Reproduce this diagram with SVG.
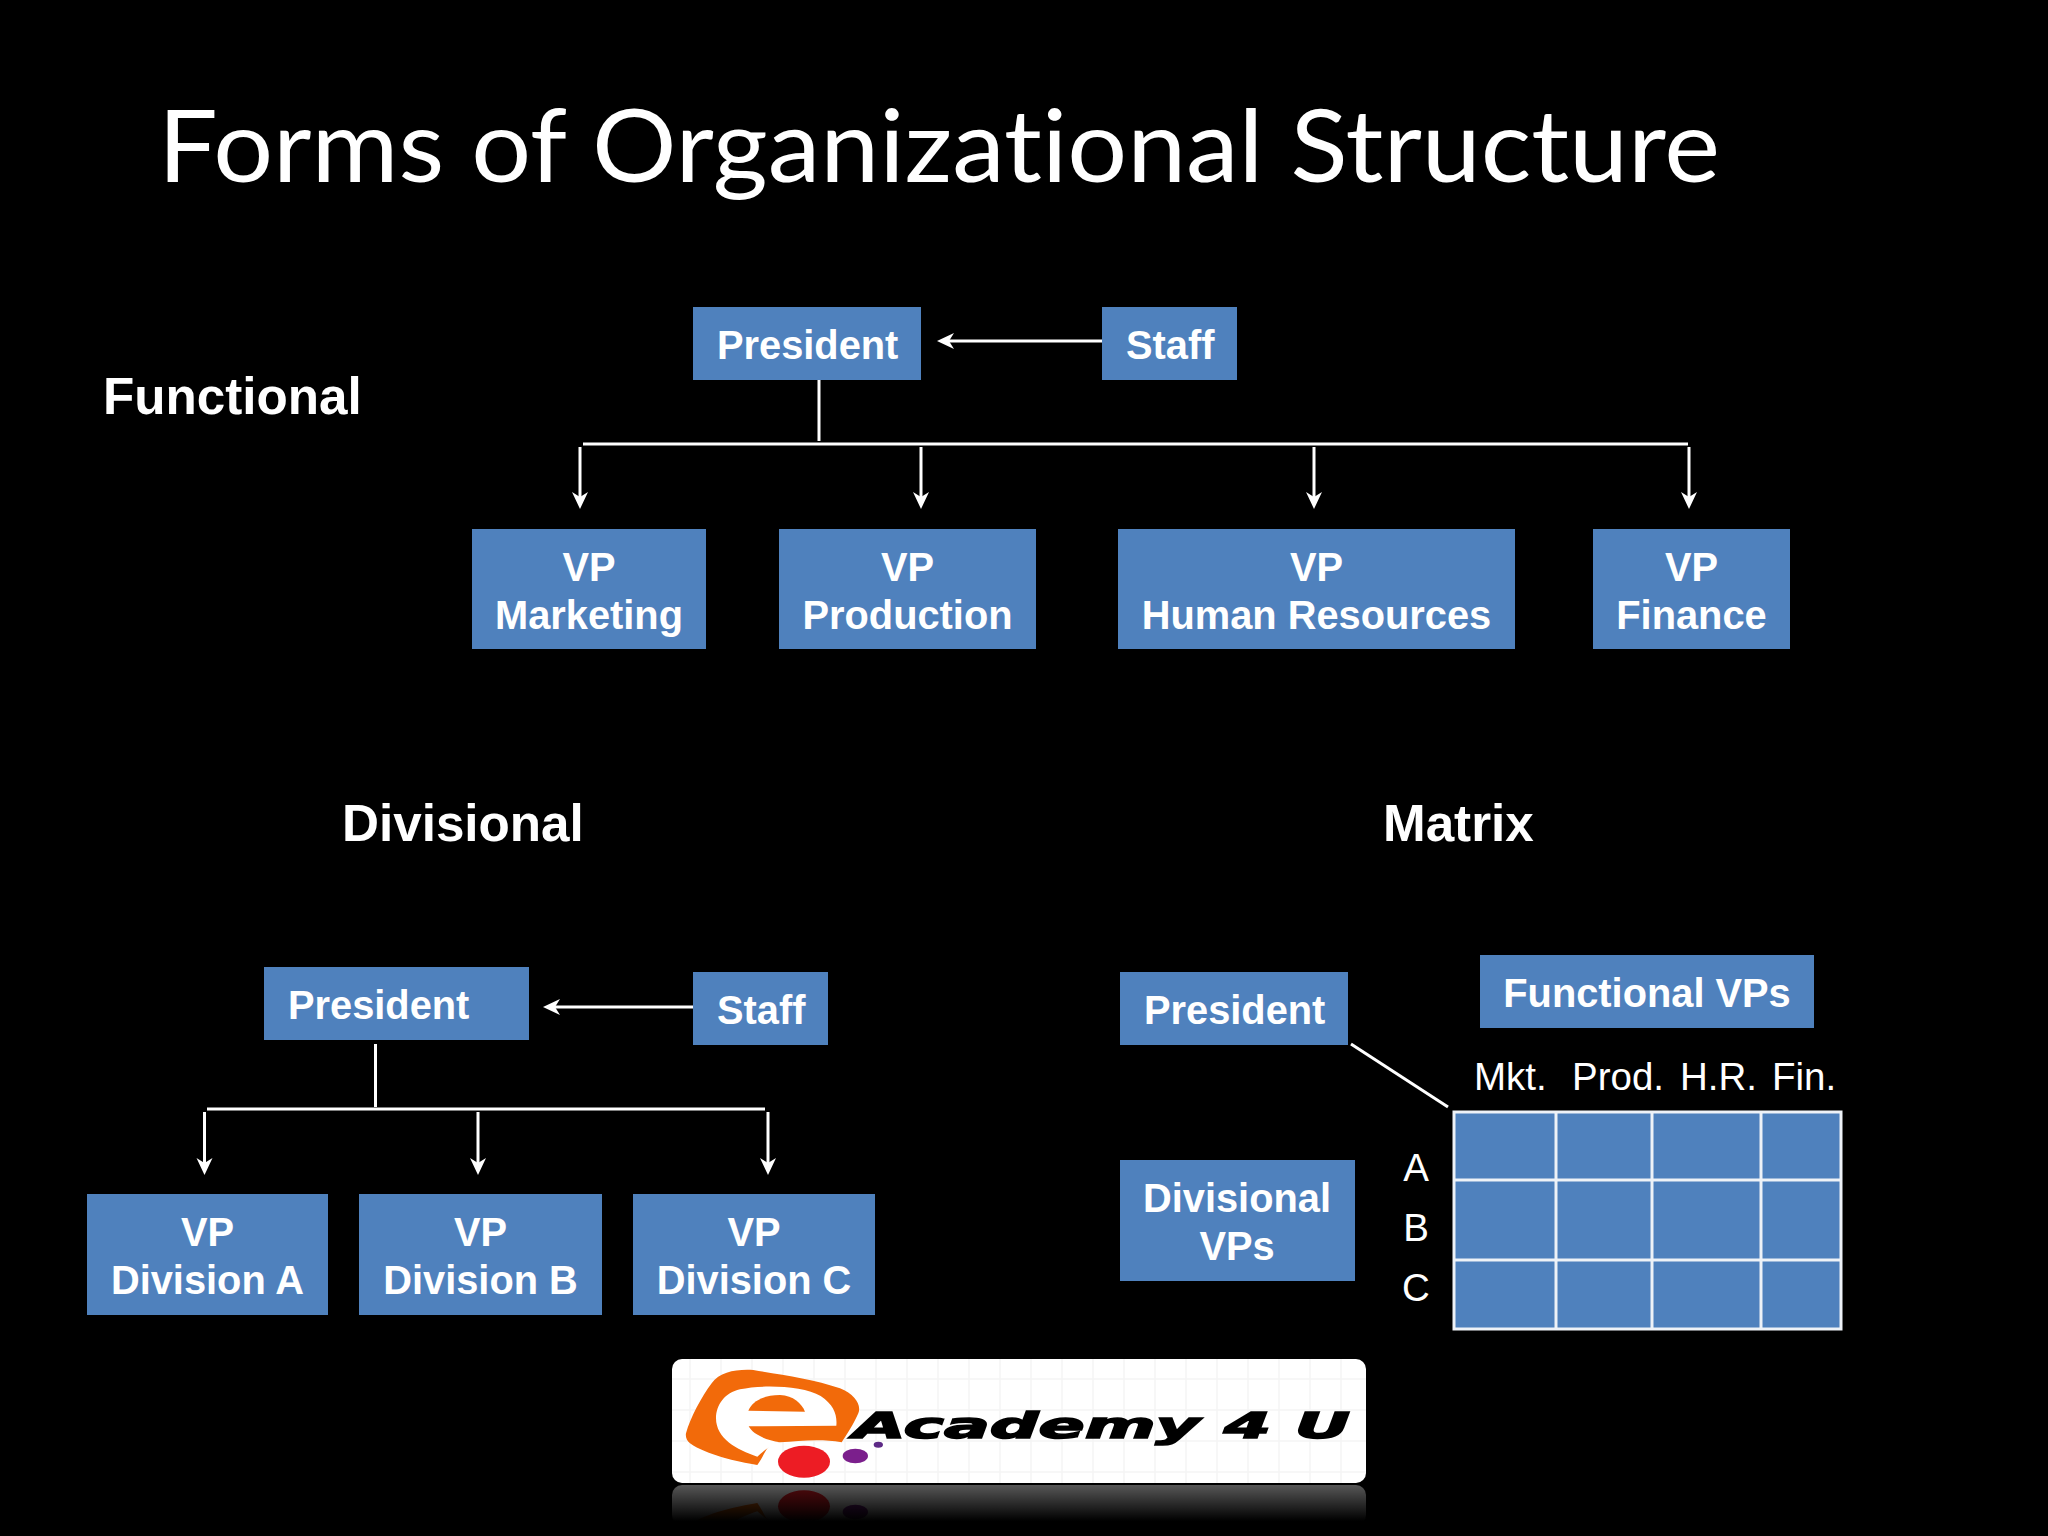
<svg xmlns="http://www.w3.org/2000/svg" width="2048" height="1536" viewBox="0 0 2048 1536">
<defs>
<style>
.box{fill:#4f81bd}
.b{font-family:"Liberation Sans",Arial,sans-serif;font-weight:700;font-size:39.8px;fill:#fff}
.m{text-anchor:middle}
.h{font-family:"Liberation Sans",Arial,sans-serif;font-weight:700;font-size:51.2px;fill:#fff}
.r{font-family:"Liberation Sans",Arial,sans-serif;font-size:38.5px;fill:#fff}
.c{fill:none;stroke:#fff;stroke-width:3}
.a{marker-end:url(#arrow)}
.grid{fill:none;stroke:#eef2f7;stroke-width:3}
</style>
<marker id="arrow" markerUnits="userSpaceOnUse" markerWidth="17" markerHeight="17" refX="11" refY="8" orient="auto" viewBox="0 0 17 16">
<path d="M17,8 L0,0 L5,8 L0,16 Z" fill="#fff"/>
</marker>
<pattern id="logogrid" patternUnits="userSpaceOnUse" width="31" height="31" x="672" y="1359">
<path d="M18,0V31M0,20H31" stroke="#f5f5f5" stroke-width="1.500" fill="none"/>
</pattern>
<linearGradient id="fade" x1="0" y1="0" x2="0" y2="1">
<stop offset="0" stop-color="#000" stop-opacity="0.66"/>
<stop offset="0.9" stop-color="#000" stop-opacity="1"/>
</linearGradient>
<g id="mark">
<g transform="translate(670,1355) scale(0.33333)">
<path fill="#f26a0a" d="M48,235 C60,190 95,125 125,85 C150,50 200,42 250,45 C340,60 430,72 510,100 C555,118 575,150 565,175 C552,205 530,240 515,262 C450,250 390,258 330,262 C290,262 290,290 262,330 C200,320 110,300 60,265 C50,258 46,245 48,235Z"/>
<path fill="#fff" d="M138,190 C138,150 165,113 210,103 C280,88 400,93 452,123 C492,150 502,180 499,212 L236,214 C250,240 290,255 330,262 C300,270 280,290 262,305 C200,285 138,250 138,190Z"/>
<path fill="#f26a0a" d="M235,167 C245,140 280,120 330,120 C370,122 395,145 405,170 Z"/>
<ellipse cx="402" cy="320" rx="78" ry="48" fill="#ed1c24"/>
<ellipse cx="556" cy="303" rx="38" ry="22" fill="#7b1f8c"/>
<ellipse cx="625" cy="269" rx="14" ry="9" fill="#5d2a86"/>
</g>
</g>
<clipPath id="reflclip"><rect x="672" y="1485" width="694" height="40"/></clipPath>
</defs>
<rect id="background" width="2048" height="1536" fill="#000"/>
<text id="title" x="158" y="182" font-family="Lato,'Open Sans',sans-serif" font-size="100" fill="#fff" style="font-variant-ligatures:none" textLength="1562" lengthAdjust="spacingAndGlyphs">Forms of Organizational Structure</text>
<text id="label-functional" class="h" x="103" y="414">Functional</text>
<text id="label-divisional" class="h" x="342" y="841">Divisional</text>
<text id="label-matrix" class="h" x="1383" y="841">Matrix</text>

<g id="connectors">
<line class="c a" x1="1102" y1="341" x2="943" y2="341"/>
<line class="c" x1="819" y1="380" x2="819" y2="441"/>
<line class="c" x1="583" y1="444" x2="1688" y2="444"/>
<line class="c a" x1="580" y1="447" x2="580" y2="503"/>
<line class="c a" x1="921" y1="447" x2="921" y2="503"/>
<line class="c a" x1="1314" y1="447" x2="1314" y2="503"/>
<line class="c a" x1="1689" y1="447" x2="1689" y2="503"/>
<line class="c a" x1="693" y1="1007" x2="549" y2="1007"/>
<line class="c" x1="375.500" y1="1044" x2="375.500" y2="1107"/>
<line class="c" x1="207" y1="1109" x2="765" y2="1109"/>
<line class="c a" x1="204.500" y1="1112" x2="204.500" y2="1169"/>
<line class="c a" x1="478" y1="1112" x2="478" y2="1169"/>
<line class="c a" x1="768" y1="1112" x2="768" y2="1169"/>
<line class="c" x1="1351" y1="1044" x2="1448" y2="1107"/>
</g>

<g id="f-president"><rect class="box" x="693" y="307" width="228" height="73"/><text class="b" x="717" y="359">President</text></g>
<g id="f-staff"><rect class="box" x="1102" y="307" width="135" height="73"/><text class="b" x="1126" y="359">Staff</text></g>
<g id="f-marketing"><rect class="box" x="472" y="529" width="234" height="120"/><text class="b m" x="589" y="581">VP</text><text class="b m" x="589" y="629">Marketing</text></g>
<g id="f-production"><rect class="box" x="779" y="529" width="257" height="120"/><text class="b m" x="907.500" y="581">VP</text><text class="b m" x="907.500" y="629">Production</text></g>
<g id="f-hr"><rect class="box" x="1118" y="529" width="397" height="120"/><text class="b m" x="1316.500" y="581">VP</text><text class="b m" x="1316.500" y="629">Human Resources</text></g>
<g id="f-finance"><rect class="box" x="1593" y="529" width="197" height="120"/><text class="b m" x="1691.500" y="581">VP</text><text class="b m" x="1691.500" y="629">Finance</text></g>

<g id="d-president"><rect class="box" x="264" y="967" width="265" height="73"/><text class="b" x="288" y="1019">President</text></g>
<g id="d-staff"><rect class="box" x="693" y="972" width="135" height="73"/><text class="b" x="717" y="1024">Staff</text></g>
<g id="d-a"><rect class="box" x="87" y="1194" width="241" height="121"/><text class="b m" x="207.500" y="1246">VP</text><text class="b m" x="207.500" y="1294">Division A</text></g>
<g id="d-b"><rect class="box" x="359" y="1194" width="243" height="121"/><text class="b m" x="480.500" y="1246">VP</text><text class="b m" x="480.500" y="1294">Division B</text></g>
<g id="d-c"><rect class="box" x="633" y="1194" width="242" height="121"/><text class="b m" x="754" y="1246">VP</text><text class="b m" x="754" y="1294">Division C</text></g>

<g id="m-president"><rect class="box" x="1120" y="972" width="228" height="73"/><text class="b" x="1144" y="1024">President</text></g>
<g id="m-functional"><rect class="box" x="1480" y="955" width="334" height="73"/><text class="b m" x="1647" y="1007">Functional VPs</text></g>
<g id="m-divisional"><rect class="box" x="1120" y="1160" width="235" height="121"/><text class="b m" x="1237" y="1212">Divisional</text><text class="b m" x="1237" y="1260">VPs</text></g>

<g id="m-grid">
<rect class="box" x="1454" y="1112" width="387" height="217"/>
<path class="grid" d="M1454,1112H1841V1329H1454ZM1556,1112V1329M1652,1112V1329M1761,1112V1329M1454,1180H1841M1454,1260H1841"/>
<text class="r" y="1090"><tspan x="1474">Mkt.</tspan><tspan x="1572">Prod.</tspan><tspan x="1680">H.R.</tspan><tspan x="1772">Fin.</tspan></text>
<text class="r m" x="1416" y="1181">A</text>
<text class="r m" x="1416" y="1241">B</text>
<text class="r m" x="1416" y="1301">C</text>
</g>

<g id="logo">
<rect x="672" y="1359" width="694" height="124" rx="10" fill="#fff"/>
<rect x="672" y="1359" width="694" height="124" rx="10" fill="url(#logogrid)"/>
<use href="#mark"/>
<text x="853" y="1438" font-family="'DejaVu Sans',sans-serif" font-weight="700" font-style="italic" font-size="36" fill="#000" stroke="#000" stroke-width="1.500" textLength="497" lengthAdjust="spacingAndGlyphs">Academy 4 U</text>
<g clip-path="url(#reflclip)">
<g transform="translate(0,2968) scale(1,-1)">
<rect x="672" y="1443" width="694" height="40" rx="10" fill="#fff"/>
<use href="#mark"/>
</g>
<rect x="672" y="1485" width="694" height="40" fill="url(#fade)"/>
</g>
</g>
</svg>
